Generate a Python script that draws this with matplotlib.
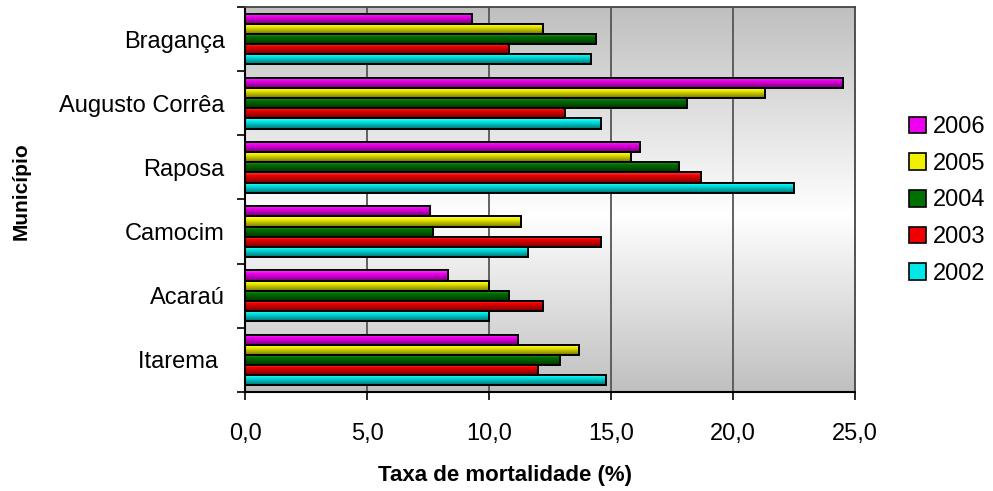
import numpy as np
import matplotlib
matplotlib.use('Agg')
import matplotlib.pyplot as plt
from matplotlib.patches import Patch
from matplotlib.colors import to_rgb

plt.rcParams['font.family'] = ['Liberation Sans', 'DejaVu Sans']

# Data
municipios = ['Bragança', 'Augusto Corrêa', 'Raposa', 'Camocim', 'Acaraú', 'Itarema ']
anos = ['2006', '2005', '2004', '2003', '2002']
taxa_2006 = [9.3, 24.5, 16.2, 7.6, 8.3, 11.2]
taxa_2005 = [12.2, 21.3, 15.8, 11.3, 10.0, 13.7]
taxa_2004 = [14.4, 18.1, 17.8, 7.7, 10.8, 12.9]
taxa_2003 = [10.8, 13.1, 18.7, 14.6, 12.2, 12.0]
taxa_2002 = [14.2, 14.6, 22.5, 11.6, 10.0, 14.8]
series = [taxa_2006, taxa_2005, taxa_2004, taxa_2003, taxa_2002]
cores = ['#f000f0', '#f0f000', '#007000', '#f00000', '#00e8e8']

fig = plt.figure(figsize=(9.93, 4.91), dpi=100)
ax = fig.add_axes([245 / 993, 1 - 392 / 491, 610 / 993, 385 / 491])

n = len(municipios)

# background: grey at top/bottom, white band in the middle
pos = np.linspace(0, 1, 200)
shade = np.interp(pos, [0, 0.54, 1], [0.75, 1.0, 0.75])
bg = np.stack([shade, shade, shade], axis=-1)[:, None, :].repeat(2, axis=1)
ax.imshow(bg, extent=[0, 25, n, 0], aspect='auto', zorder=0, interpolation='bilinear')

for xv in [5, 10, 15, 20]:
    ax.axvline(xv, color='#555555', lw=1.3, zorder=1)

h = 0.158
for j, (vals, cor) in enumerate(zip(series, cores)):
    base = np.array(to_rgb(cor))
    t = np.linspace(0, 1, 20)[:, None]
    light = np.clip(base + 0.25, 0, 1)
    dark = base * 0.5
    grad = np.where(t < 0.3, light + (base - light) * (t / 0.3), base + (dark - base) * ((t - 0.3) / 0.7))
    img = grad[:, None, :].repeat(2, axis=1)
    for i, v in enumerate(vals):
        y = i + 0.5 + (j - 2) * h
        bars = ax.barh(y, v, height=h, color=cor, edgecolor='black', linewidth=1.4, zorder=3)
        rect = bars[0]
        im = ax.imshow(img, extent=[0, v, y + h / 2, y - h / 2], aspect='auto', zorder=2.5,
                       interpolation='bilinear')
        im.set_clip_path(rect)
        rect.set_facecolor('none')
ax.set_xlim(0, 25)
ax.set_ylim(n, 0)

ax.set_xticks(np.arange(0, 26, 5))
ax.set_xticklabels([f'{v:.1f}'.replace('.', ',') for v in np.arange(0, 26, 5)], fontsize=17)
ax.set_yticks(np.arange(0, n + 1))
ax.set_yticklabels([])
ax.set_yticks(np.arange(n) + 0.5, minor=True)
ax.set_yticklabels(municipios, minor=True, fontsize=17)
ax.tick_params(axis='y', which='minor', length=0, pad=14.5)
ax.tick_params(axis='y', which='major', length=6, width=1.2, direction='out')
ax.tick_params(axis='x', length=6, width=1.2, direction='out', pad=16.5)

for s in ['top', 'right']:
    ax.spines[s].set_color('#444444')
    ax.spines[s].set_linewidth(1.3)
for s in ['left', 'bottom']:
    ax.spines[s].set_color('black')
    ax.spines[s].set_linewidth(1.5)

fig.text(505 / 993, 1 - 475 / 491, 'Taxa de mortalidade (%)', ha='center', va='center',
         fontsize=16, fontweight='bold')
fig.text(21 / 993, 1 - 191 / 491, 'Município', ha='center', va='center', rotation=90,
         fontsize=15, fontweight='bold')

handles = [Patch(facecolor=c, edgecolor='black', linewidth=1.2) for c in cores]
fig.legend(handles, anos, loc='center left', bbox_to_anchor=(909 / 993, 1 - 200.5 / 491),
           frameon=False, fontsize=17, handlelength=0.7, handleheight=0.7,
           handletextpad=0.3, labelspacing=0.62, borderaxespad=0, borderpad=0)

fig.savefig('out.png', dpi=100)
